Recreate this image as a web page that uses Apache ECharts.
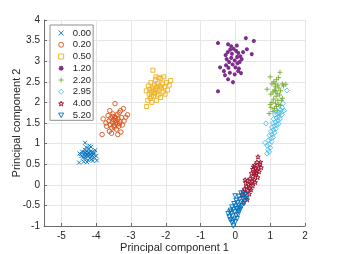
<!DOCTYPE html>
<html><head><meta charset="utf-8">
<script src="https://cdn.jsdelivr.net/npm/echarts@6/dist/echarts.min.js"></script>
<style>html,body{margin:0;padding:0;background:#fff}#c{width:338px;height:254px}</style>
</head><body><div id="c"></div>
<script>
const seriesNames = ['0.00','0.20','0.50','1.20','2.20','2.95','4.00','5.20'];
const xTicks = [-5,-4,-3,-2,-1,0,1,2];
const yTicks = [-1,-0.5,0,0.5,1,1.5,2,2.5,3,3.5,4];

const s000 = [[-4.49,0.54],[-4.45,0.74],[-4.40,0.80],[-4.38,0.66],[-4.35,0.72],[-4.33,0.85],[-4.31,0.78],[-4.30,0.69],[-4.32,1.02],[-4.27,0.75],[-4.25,0.82],[-4.24,0.60],[-4.22,0.70],[-4.21,0.88],[-4.20,0.77],[-4.18,0.64],[-4.17,0.73],[-4.15,0.92],[-4.14,0.68],[-4.12,0.80],[-4.10,0.58],[-4.08,0.74],[-4.05,0.66],[-4.03,0.84],[-4.00,0.70],[-3.98,0.59],[-4.36,0.56],[-4.26,0.55],[-4.29,0.91],[-4.19,0.95],[-4.42,0.70],[-4.23,0.78],[-4.16,0.81],[-4.32,0.64],[-4.11,0.72],[-4.48,0.76],[-4.06,0.78],[-4.34,0.79],[-4.13,0.62],[-4.26,0.71]];
const s020 = [[-3.83,1.22],[-3.80,1.60],[-3.72,1.50],[-3.70,1.42],[-3.66,1.68],[-3.63,1.55],[-3.61,1.80],[-3.60,1.46],[-3.58,1.62],[-3.55,1.38],[-3.54,1.52],[-3.52,1.72],[-3.50,1.58],[-3.49,1.44],[-3.47,1.65],[-3.46,1.97],[-3.45,1.50],[-3.43,1.56],[-3.42,1.35],[-3.40,1.70],[-3.39,1.48],[-3.37,1.60],[-3.35,1.42],[-3.34,1.75],[-3.32,1.53],[-3.30,1.80],[-3.29,1.28],[-3.27,1.63],[-3.25,1.45],[-3.22,1.85],[-3.20,1.55],[-3.15,1.64],[-3.10,1.70],[-3.56,1.25],[-3.38,1.22],[-3.62,1.30],[-3.48,1.40],[-3.44,1.62],[-3.53,1.66],[-3.33,1.48]];
const s050 = [[-2.56,2.28],[-2.55,1.90],[-2.52,2.05],[-2.50,2.40],[-2.48,2.20],[-2.46,2.32],[-2.45,2.10],[-2.43,2.48],[-2.42,2.25],[-2.40,2.00],[-2.39,2.35],[-2.37,2.78],[-2.36,2.28],[-2.35,2.15],[-2.33,2.42],[-2.32,2.22],[-2.30,2.55],[-2.29,2.32],[-2.27,2.05],[-2.26,2.38],[-2.25,2.25],[-2.23,2.45],[-2.22,2.18],[-2.20,2.60],[-2.19,2.30],[-2.17,2.40],[-2.15,2.12],[-2.14,2.58],[-2.12,2.35],[-2.10,2.45],[-2.08,2.25],[-2.06,2.62],[-2.04,2.38],[-2.02,2.20],[-1.98,2.48],[-1.95,2.30],[-1.90,2.42],[-1.86,2.53],[-2.28,2.62],[-2.41,2.14]];
const s120 = [[-0.50,3.44],[-0.21,3.41],[0.30,3.56],[0.53,3.49],[0.33,3.29],[0.47,3.17],[-0.44,2.85],[-0.33,2.76],[-0.21,2.56],[-0.07,2.49],[0.16,2.71],[-0.50,2.27],[-0.28,3.15],[-0.22,3.22],[-0.15,3.28],[-0.10,3.18],[-0.05,3.30],[0.02,3.25],[0.08,3.20],[0.14,3.12],[-0.25,3.05],[-0.18,2.98],[-0.12,3.08],[-0.02,3.02],[0.05,3.10],[0.12,2.98],[0.18,3.05],[-0.27,2.90],[-0.20,2.84],[-0.08,2.92],[0.00,2.85],[0.06,2.95],[0.10,2.82],[-0.16,2.72],[-0.02,2.68],[0.08,2.76],[-0.12,3.36],[0.22,3.22],[-0.30,2.66],[0.04,3.38]];
const s220 = [[0.91,2.32],[1.28,2.73],[1.00,2.62],[1.35,2.45],[1.45,2.44],[1.10,2.50],[1.18,2.55],[1.22,2.42],[1.05,2.45],[1.15,2.38],[1.25,2.35],[1.30,2.28],[1.12,2.30],[1.20,2.22],[1.08,2.25],[1.17,2.15],[1.27,2.18],[1.35,2.10],[1.10,2.08],[1.22,2.05],[1.15,1.98],[1.05,2.00],[1.25,1.95],[1.18,1.90],[1.02,1.88],[1.12,1.85],[1.30,1.92],[1.08,1.78],[0.97,1.73],[1.20,1.80],[1.38,2.40],[1.14,2.45],[1.24,2.60],[1.02,2.20],[1.32,2.05],[1.16,2.28],[1.00,1.95],[1.26,1.70]];
const s295 = [[1.48,2.29],[1.37,1.98],[1.34,1.88],[1.40,1.80],[1.30,1.82],[1.26,1.75],[1.33,1.70],[1.20,1.72],[1.14,1.70],[1.25,1.65],[1.18,1.62],[1.10,1.60],[1.22,1.56],[1.15,1.52],[1.08,1.50],[0.88,1.49],[1.19,1.45],[1.12,1.42],[1.05,1.40],[1.16,1.36],[1.09,1.33],[1.02,1.30],[1.12,1.26],[1.06,1.22],[0.98,1.20],[1.08,1.15],[1.02,1.12],[0.95,1.08],[1.04,1.05],[0.85,1.02],[0.98,0.98],[0.92,0.95],[1.00,0.90],[0.94,0.85],[0.91,0.76],[0.97,0.80],[1.28,1.60],[1.35,1.78],[1.16,1.80],[1.24,1.48]];
const s400 = [[0.65,0.68],[0.62,0.55],[0.70,0.50],[0.55,0.48],[0.66,0.44],[0.58,0.40],[0.74,0.42],[0.50,0.38],[0.62,0.35],[0.54,0.30],[0.68,0.32],[0.46,0.28],[0.58,0.24],[0.50,0.20],[0.64,0.18],[0.42,0.15],[0.55,0.12],[0.48,0.08],[0.36,0.10],[0.28,0.12],[0.44,0.04],[0.38,0.00],[0.50,-0.02],[0.32,-0.04],[0.42,-0.08],[0.26,-0.10],[0.36,-0.14],[0.22,-0.16],[0.30,-0.20],[0.40,-0.22],[0.18,-0.24],[0.28,-0.30],[0.34,-0.36],[0.24,-0.42],[0.60,0.28],[0.52,0.44],[0.45,-0.12],[0.30,0.05],[0.57,0.06],[0.72,0.55]];
const s520 = [[-0.06,-1.00],[-0.10,-0.92],[0.00,-0.90],[-0.15,-0.85],[-0.04,-0.84],[0.05,-0.82],[-0.18,-0.78],[-0.08,-0.76],[0.02,-0.74],[-0.21,-0.70],[-0.12,-0.70],[0.08,-0.72],[-0.02,-0.66],[0.10,-0.64],[-0.14,-0.62],[-0.06,-0.60],[0.04,-0.58],[0.14,-0.60],[-0.10,-0.54],[0.00,-0.52],[0.10,-0.50],[0.18,-0.52],[-0.04,-0.46],[0.06,-0.44],[0.16,-0.42],[0.24,-0.46],[0.02,-0.38],[0.12,-0.36],[0.22,-0.34],[0.33,-0.34],[-0.01,-0.27],[0.10,-0.28],[0.20,-0.26],[0.28,-0.24],[0.16,-0.20],[-0.16,-0.66],[0.06,-0.62],[-0.08,-0.88],[0.12,-0.56],[0.26,-0.40]];

const allData = [s000,s020,s050,s120,s220,s295,s400,s520];
const colors = ['#0072BD','#D95319','#EDB120','#7E2F8E','#77AC30','#4DBEEE','#A2142F','#0072BD'];
const symbols = [
  'path://M0,0L10,10M10,0L0,10',
  'circle',
  'rect',
  'path://M5,0L5,10M0,5L10,5M1.5,1.5L8.5,8.5M8.5,1.5L1.5,8.5',
  'path://M5,0L5,10M0,5L10,5',
  'diamond',
  'path://M10,0L12.25,6.91L19.51,6.91L13.63,11.18L15.88,18.09L10,13.82L4.12,18.09L6.37,11.18L0.49,6.91L7.75,6.91Z',
  'path://M0,0L10,0L5,9Z'
];
const sizes = [4,4.5,4,4,5,5,4.5,4.5];
const widths = [0.9,0.9,0.9,1.3,0.9,0.9,1,0.9];
const fills = ['rgba(0,0,0,0)','rgba(0,0,0,0)','rgba(0,0,0,0)','#7E2F8E','rgba(0,0,0,0)','rgba(0,0,0,0)','rgba(0,0,0,0)','rgba(0,0,0,0)'];

const chart = echarts.init(document.getElementById('c'), null, {renderer:'canvas'});
const font = 'Liberation Sans, Arial, Helvetica, sans-serif';
chart.setOption({
  animation:false,
  backgroundColor:'#fff',
  grid:{left:44,right:33,top:20,bottom:28,containLabel:false,outerBoundsMode:'none'},
  xAxis:{
    type:'value',min:-5.5,max:2,interval:0.5,
    name:'Principal component 1',nameLocation:'middle',nameGap:16,nameMoveOverlap:false,
    nameTextStyle:{fontFamily:font,fontSize:11,color:'#262626'},
    axisLine:{show:true,onZero:false,lineStyle:{color:'#6b6b6b',width:1}},
    axisTick:{show:true,inside:true,length:3,customValues:xTicks,lineStyle:{color:'#6b6b6b'}},
    axisLabel:{customValues:xTicks,fontFamily:font,fontSize:10,color:'#262626',margin:5},
    splitLine:{show:true,lineStyle:{color:'#e6e6e6',width:1}}
  },
  yAxis:{
    type:'value',min:-1,max:4,interval:0.5,
    name:'Principal component 2',nameLocation:'middle',nameGap:22,nameMoveOverlap:false,
    nameTextStyle:{fontFamily:font,fontSize:11,color:'#262626'},
    axisLine:{show:true,onZero:false,lineStyle:{color:'#6b6b6b',width:1}},
    axisTick:{show:true,inside:true,length:3,lineStyle:{color:'#6b6b6b'}},
    axisLabel:{fontFamily:font,fontSize:10,color:'#262626',margin:4},
    splitLine:{show:true,lineStyle:{color:'#e6e6e6',width:1}}
  },
  legend:{
    orient:'vertical',left:50,top:25,
    padding:[3,2,0,8],
    itemWidth:5,itemHeight:5,itemGap:1.76,
    backgroundColor:'#fff',borderColor:'#8f8f8f',borderWidth:1,
    textStyle:{fontFamily:font,fontSize:9.5,color:'#262626',lineHeight:10,padding:[0,0,0,4]},
    data:seriesNames.map((n,i)=>({name:n,itemStyle:{color:fills[i],borderColor:colors[i],borderWidth:widths[i]}}))
  },
  series: allData.map((d,i)=>({
    type:'scatter',name:seriesNames[i],data:d,
    symbol:symbols[i],symbolSize:sizes[i],
    itemStyle:{color:fills[i],borderColor:colors[i],borderWidth:widths[i],opacity:1}
  }))
});
</script></body></html>
